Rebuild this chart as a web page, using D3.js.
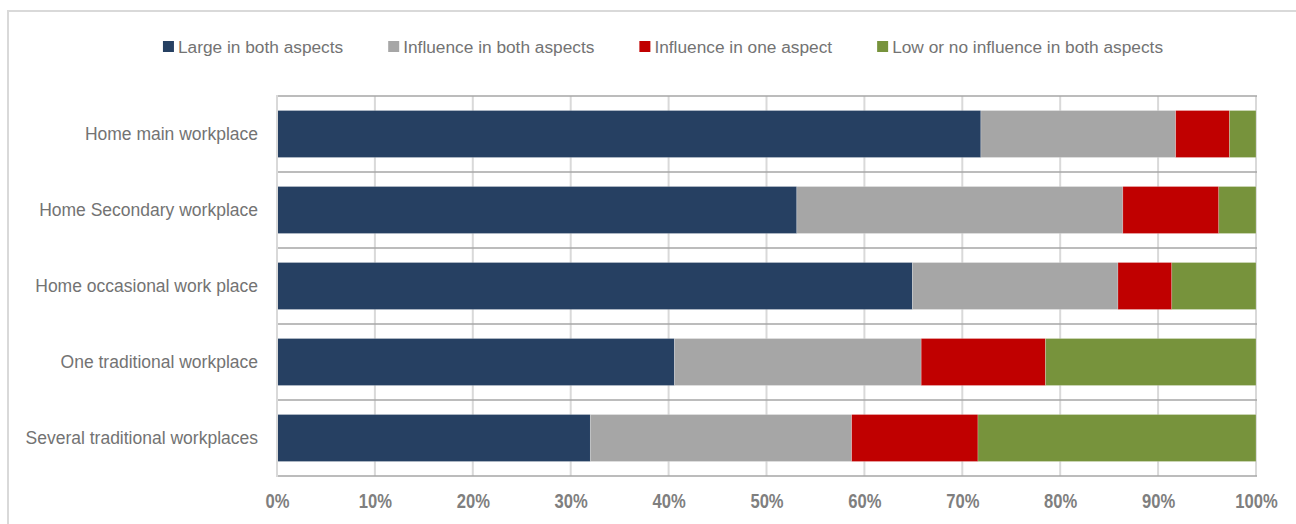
<!DOCTYPE html>
<html>
<head>
<meta charset="utf-8">
<script src="https://cdn.jsdelivr.net/npm/d3@7"></script>
<style>
  html, body { margin: 0; padding: 0; background: #fff; }
  svg { display: block; }
</style>
</head>
<body>
<svg id="chart" width="1296" height="524"></svg>
<script>
const categories = [
  "Home main workplace",
  "Home Secondary workplace",
  "Home occasional work place",
  "One traditional workplace",
  "Several traditional workplaces"
];
const seriesNames = [
  "Large in both aspects",
  "Influence in both aspects",
  "Influence in one aspect",
  "Low or no influence in both aspects"
];
const largeBoth     = [71.9, 53.1, 64.9, 40.6, 32.0];
const influenceBoth = [19.9, 33.3, 21.0, 25.2, 26.7];
const influenceOne  = [5.5, 9.8, 5.5, 12.7, 12.9];
const lowNone       = [2.7, 3.8, 8.6, 21.5, 28.4];
const tickValues = [0, 10, 20, 30, 40, 50, 60, 70, 80, 90, 100];
const colors = ["#264062", "#A6A6A6", "#C00000", "#77933C"];

const rows = categories.map((c, i) => ({
  category: c,
  [seriesNames[0]]: largeBoth[i],
  [seriesNames[1]]: influenceBoth[i],
  [seriesNames[2]]: influenceOne[i],
  [seriesNames[3]]: lowNone[i]
}));

const svg = d3.select("#chart");
const W = 1296, H = 524;

// outer frame
svg.append("line").attr("x1", 8).attr("x2", 8).attr("y1", 10).attr("y2", H)
  .attr("stroke", "#D9D9D9").attr("stroke-width", 2);
svg.append("line").attr("x1", 7).attr("x2", W).attr("y1", 11).attr("y2", 11)
  .attr("stroke", "#D9D9D9").attr("stroke-width", 2);

const x = d3.scaleLinear().domain([0, 100]).range([277, 1256]);
const y = d3.scaleBand().domain(categories).range([96, 476])
  .paddingInner(0.382).paddingOuter(0.191);

// vertical gridlines
svg.append("g").selectAll("line").data(tickValues).join("line")
  .attr("x1", d => x(d)).attr("x2", d => x(d))
  .attr("y1", 96).attr("y2", 476)
  .attr("stroke", "#D9D9D9").attr("stroke-width", 2);

// horizontal category separators
const bounds = d3.range(categories.length + 1).map(i => y.range()[0] + i * y.step() * 1);
svg.append("g").selectAll("line").data(bounds).join("line")
  .attr("x1", 277).attr("x2", 1257)
  .attr("y1", d => d).attr("y2", d => d)
  .attr("stroke", "#A6A6A6").attr("stroke-width", 1.5);

// stacked bars
const stack = d3.stack().keys(seriesNames);
const stacked = stack(rows);
svg.append("g").selectAll("g").data(stacked).join("g")
  .attr("fill", (d, i) => colors[i])
  .selectAll("rect").data(d => d).join("rect")
  .attr("x", d => x(d[0]))
  .attr("width", d => x(Math.min(d[1], 100)) - x(d[0]))
  .attr("y", d => y(d.data.category))
  .attr("height", y.bandwidth())
  .attr("stroke", "rgba(255,255,255,0.35)").attr("stroke-width", 0.6);

// x axis
const xAxis = d3.axisBottom(x).tickValues(tickValues).tickFormat(d => d + "%").tickSize(0).tickPadding(18);
const gx = svg.append("g").attr("transform", "translate(0,476)").call(xAxis);
gx.select(".domain").remove();
gx.selectAll("text")
  .attr("font-family", "'Liberation Sans', Arial, sans-serif")
  .attr("font-weight", "bold").attr("font-size", 20).attr("fill", "#7F7F7F")
  .attr("transform", "scale(0.83,1)");

// y axis
const yAxis = d3.axisLeft(y).tickSize(0).tickPadding(19);
const gy = svg.append("g").attr("transform", "translate(277,0)").call(yAxis);
gy.select(".domain").remove();
gy.selectAll("text")
  .attr("font-family", "'Liberation Sans', Arial, sans-serif")
  .attr("font-size", 17.5).attr("fill", "#737373");

// left axis line
svg.append("line").attr("x1", 277).attr("x2", 277).attr("y1", 95).attr("y2", 477)
  .attr("stroke", "#D9D9D9").attr("stroke-width", 2);

// legend
const legend = svg.append("g").attr("font-family", "'Liberation Sans', Arial, sans-serif")
  .attr("font-size", 17.3).attr("fill", "#737373");
const items = legend.selectAll("g").data(seriesNames).join("g");
items.append("rect").attr("width", 11).attr("height", 11).attr("y", 41)
  .attr("fill", (d, i) => colors[i]);
items.append("text").attr("x", 15).attr("y", 53).text(d => d);
const widths = [];
items.each(function() { widths.push(d3.select(this).select("text").node().getComputedTextLength()); });
const gap = 45;
const total = d3.sum(widths, w => w + 15) + gap * (widths.length - 1);
let cx = 663 - total / 2;
items.attr("transform", (d, i) => {
  const t = `translate(${cx},0)`;
  cx += widths[i] + 15 + gap;
  return t;
});
</script>
</body>
</html>
